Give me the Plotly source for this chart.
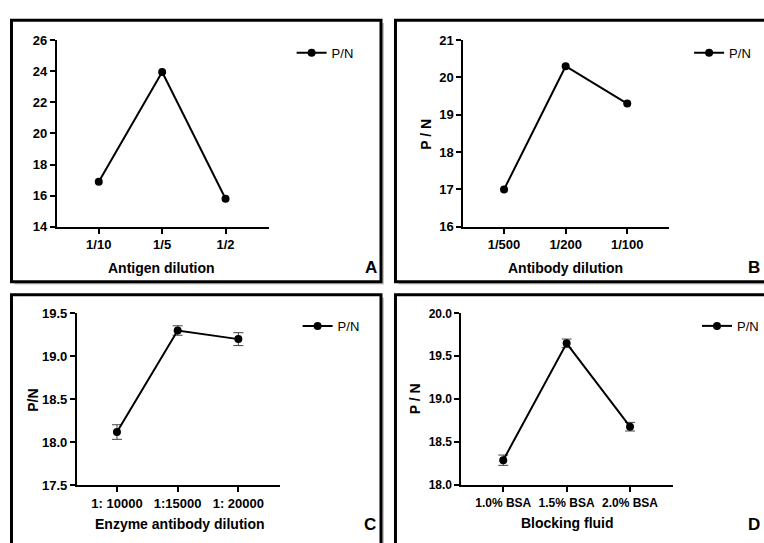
import plotly.graph_objects as go

W, H = 764, 543

# ---------------- data ----------------
a_categories = ["1/10", "1/5", "1/2"]
a_values = [16.9, 23.95, 15.8]

b_categories = ["1/500", "1/200", "1/100"]
b_values = [17.0, 20.3, 19.3]

c_categories = ["1: 10000", "1:15000", "1: 20000"]
c_values = [18.12, 19.30, 19.20]
c_errors = [0.085, 0.055, 0.075]

d_categories = ["1.0% BSA", "1.5% BSA", "2.0% BSA"]
d_values = [18.29, 19.65, 18.68]
d_errors = [0.06, 0.05, 0.05]

series_name = "P/N"
panel_letters = ["A", "B", "C", "D"]
x_titles = ["Antigen dilution", "Antibody dilution", "Enzyme antibody dilution", "Blocking fluid"]
y_titles = ["", "P / N", "P/N", "P / N"]


def px(x):
    return x / W


def py(y):
    return 1 - y / H


FONT = "Liberation Sans, Arial, sans-serif"

fig = go.Figure()

panels = [
    dict(cats=a_categories, vals=a_values, err=None, xd=(57, 269), yd=(34, 226),
         yr=[14, 26], dt=2, fmt="d", leg=(292, 47)),
    dict(cats=b_categories, vals=b_values, err=None, xd=(464, 670), yd=(34, 226),
         yr=[16, 21], dt=1, fmt="d", leg=(690, 47)),
    dict(cats=c_categories, vals=c_values, err=c_errors, xd=(77, 280), yd=(315, 492),
         yr=[17.5, 19.5], dt=0.5, fmt=".1f", leg=(298, 328)),
    dict(cats=d_categories, vals=d_values, err=d_errors, xd=(462, 674), yd=(315, 491.7),
         yr=[18.0, 20.0], dt=0.5, fmt=".1f", leg=(698, 328)),
]

layout = dict(
    width=W, height=H,
    margin=dict(l=0, r=0, t=0, b=0),
    paper_bgcolor="white",
    plot_bgcolor="rgba(0,0,0,0)",
    showlegend=True,
    shapes=[], annotations=[],
)

tick_sizes = [13, 13, 13, 12]

for i, p in enumerate(panels):
    n = "" if i == 0 else str(i + 1)
    legname = "legend" + n
    tr = go.Scatter(
        x=p["cats"], y=p["vals"], name=series_name,
        mode="lines+markers",
        line=dict(color="black", width=2),
        marker=dict(color="black", size=8),
        xaxis="x" + n, yaxis="y" + n,
        legend=legname,
    )
    if p["err"] is not None:
        tr.error_y = dict(type="data", array=p["err"], visible=True,
                          color="#444444", thickness=1, width=5)
    fig.add_trace(tr)

    axcommon = dict(showline=True, linewidth=2, linecolor="black",
                    ticks="outside", ticklen=5, tickwidth=2, tickcolor="black",
                    showgrid=False, zeroline=False,
                    tickfont=dict(family=FONT, size=tick_sizes[i], color="black", weight="bold"))
    layout["xaxis" + n] = dict(axcommon, domain=[px(p["xd"][0]), px(p["xd"][1])],
                               anchor="y" + n, type="category", range=[-0.66, 2.68])
    layout["yaxis" + n] = dict(axcommon, domain=[py(p["yd"][1]), py(p["yd"][0])],
                               anchor="x" + n, range=p["yr"], dtick=p["dt"],
                               tickformat=p["fmt"])
    layout[legname] = dict(x=px(p["leg"][0]), y=py(p["leg"][1]), xanchor="left", yanchor="middle",
                           bgcolor="rgba(0,0,0,0)", itemwidth=30,
                           font=dict(family=FONT, size=13, color="black"))

# panel frames (shadow + border)
frames = [(11.5, 13.5, 381.5, 282.5), (396, 13.5, 775, 282.5),
          (11.5, 296, 381.5, 555), (396, 296, 775, 555)]
for (x0, y0, x1, y1) in frames:
    layout["shapes"].append(dict(type="rect", xref="paper", yref="paper", layer="below",
                                 x0=px(x0 + 3), x1=px(x1 + 3), y0=py(y1 + 3), y1=py(y0 + 3),
                                 fillcolor="#c4c4c4", line=dict(width=0)))
    layout["shapes"].append(dict(type="rect", xref="paper", yref="paper", layer="below",
                                 x0=px(x0), x1=px(x1), y0=py(y1), y1=py(y0),
                                 fillcolor="white", line=dict(color="black", width=3)))

# x titles
xt_pos = [(162, 268), (566, 268), (180, 532), (568, 531)]
for t, (x, y) in zip(x_titles, xt_pos):
    layout["annotations"].append(dict(text=t, x=px(x), y=py(y), xref="paper", yref="paper",
                                      showarrow=False, xanchor="center", yanchor="middle",
                                      font=dict(family=FONT, size=14, color="black", weight="bold")))
# y titles
yt_pos = [None, (427, 131), (33, 404), (415, 403)]
for t, pos in zip(y_titles, yt_pos):
    if pos is None:
        continue
    layout["annotations"].append(dict(text=t, x=px(pos[0]), y=py(pos[1]), xref="paper", yref="paper",
                                      showarrow=False, textangle=-90, xanchor="center", yanchor="middle",
                                      font=dict(family=FONT, size=14, color="black", weight="bold")))
# panel letters
letter_pos = [(363, 268, "left"), (763, 268, "right"), (362, 532, "left"), (763, 532, "right")]
for t, (x, y, xa) in zip(panel_letters, letter_pos):
    layout["annotations"].append(dict(text=t, x=px(x), y=py(y), xref="paper", yref="paper",
                                      showarrow=False, xanchor=xa, yanchor="middle",
                                      font=dict(family=FONT, size=17, color="black", weight="bold")))

fig.update_layout(**layout)
fig.write_html("out.html",
               config={"displayModeBar": False},
               post_script="document.body.style.margin='0px';document.body.style.overflow='hidden';")
